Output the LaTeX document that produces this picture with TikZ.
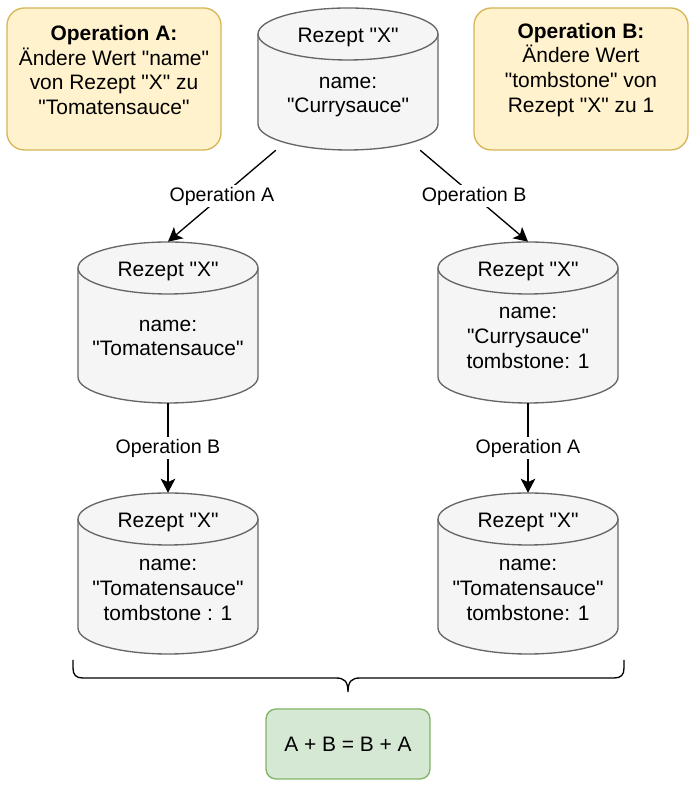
\documentclass[tikz,border=0pt]{standalone}
\usepackage{fontspec}
\setmainfont{Liberation Sans}[Ligatures=TeXOff]
\usetikzlibrary{arrows.meta,calc}
\definecolor{cylfillc}{HTML}{F5F5F5}
\definecolor{cylstroke}{HTML}{666666}
\definecolor{yelfill}{HTML}{FFF2CC}
\definecolor{yelstroke}{HTML}{D6B656}
\definecolor{grnfill}{HTML}{D5E8D4}
\definecolor{grnstroke}{HTML}{82B366}
\tikzset{
  cylline/.style={draw=cylstroke, line width=1pt},
  cylnode/.style={rectangle, inner sep=0pt, minimum width=135pt},
  txt/.style={align=center, inner sep=0pt, font=\fontsize{15.7pt}{18.6pt}\selectfont},
  notebox/.style={rectangle, rounded corners=13pt, draw=yelstroke, fill=yelfill, line width=1pt,
    minimum width=160.5pt, minimum height=106.5pt, inner sep=0pt},
  resbox/.style={rectangle, rounded corners=7.5pt, draw=grnstroke, fill=grnfill, line width=1pt,
    minimum width=123pt, minimum height=52.5pt, inner sep=0pt, font=\fontsize{15.7pt}{18.6pt}\selectfont},
  conn/.style={draw=black, line width=1pt, -{Stealth[length=10.5pt, width=11pt, inset=2.5pt]}},
  lbl/.style={fill=white, inner sep=1.5pt, font=\fontsize{14.7pt}{17pt}\selectfont},
  bracestyle/.style={draw=black, line width=1pt}
}
\newcommand\mycyl[4]{%
  \fill[cylfillc] (#2-90,787-#3-26) rectangle (#2+90,787-#4+26);
  \fill[cylfillc] (#2,787-#4+26) ellipse [x radius=67.5pt, y radius=19.5pt];
  \draw[cylline] (#2-90,787-#3-26) -- (#2-90,787-#4+26)
     arc [start angle=180, end angle=360, x radius=67.5pt, y radius=19.5pt]
     -- (#2+90,787-#3-26);
  \filldraw[cylline, fill=cylfillc] (#2,787-#3-26) ellipse [x radius=67.5pt, y radius=19.5pt];
  \node[cylnode, minimum height={(#4-#3)*0.75pt}] (#1) at (#2,{787-(#3+#4)/2}) {};
  \node[txt] (#1head) at ($(#1.north)+(0,-30)$) {Rezept "X"};
}
\begin{document}
\begin{tikzpicture}[x=0.75pt, y=0.75pt]
\useasboundingbox (0,0) rectangle (698,787);

% note boxes
\node[notebox] (noteA) at (114,787-79) {};
\node[txt] (noteAtext) at (114,787-70) {\textbf{Operation A:}\\Ändere Wert "name"\\von Rezept "X" zu\\"Tomatensauce"};
\node[notebox] (noteB) at (581,787-79) {};
\node[txt] (noteBtext) at (581,787-70) {\textbf{Operation B:}\\Ändere Wert\\"tombstone" von\\Rezept "X" zu 1};

% cylinders
\mycyl{top}{348}{8}{150}
\node[txt] (topbody) at (348,787-97) {name:\\"Currysauce"};
\mycyl{midL}{168}{242}{403}
\node[txt] (midLbody) at (168,787-338) {name:\\"Tomatensauce"};
\mycyl{midR}{528}{242}{403}
\node[txt] (midRbody) at (528,787-338) {name:\\"Currysauce"\\tombstone: 1};
\mycyl{botL}{168}{493}{654}
\node[txt] (botLbody) at (168,787-590) {name:\\"Tomatensauce"\\tombstone : 1};
\mycyl{botR}{528}{493}{654}
\node[txt] (botRbody) at (528,787-590) {name:\\"Tomatensauce"\\tombstone: 1};

% connectors
\coordinate (topA) at ($(top.south west)!0.1!(top.south east)$);
\coordinate (topB) at ($(top.south west)!0.9!(top.south east)$);
\draw[conn] (topA) -- node[lbl] {Operation A} (midL.north);
\draw[conn] (topB) -- node[lbl] {Operation B} (midR.north);
\draw[conn] (midL.south) -- node[lbl] {Operation B} (botL.north);
\draw[conn] (midR.south) -- node[lbl] {Operation A} (botR.north);

% brace
\draw[bracestyle] (73,787-660) -- (73,787-668)
  .. controls (73,787-675) and (76,787-678) .. (83,787-678)
  -- (336,787-678)
  .. controls (344,787-678) and (348,787-681) .. (348,787-692)
  .. controls (348,787-681) and (352,787-678) .. (360,787-678)
  -- (614,787-678)
  .. controls (621,787-678) and (624,787-675) .. (624,787-668)
  -- (624,787-660);

% result
\node[resbox] (result) at (348,787-744) {A + B = B + A};
\end{tikzpicture}
\end{document}
